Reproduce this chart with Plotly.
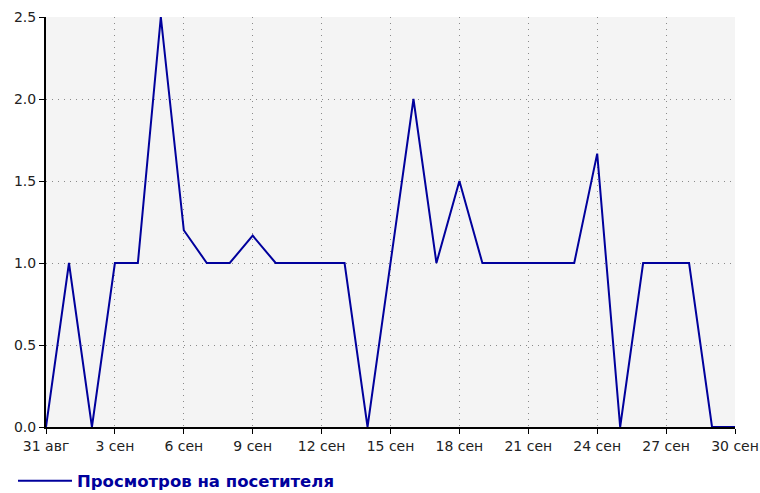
import plotly.graph_objects as go

dates = ["2023-08-31"] + [f"2023-09-{d:02d}" for d in range(1, 31)]
values = [0, 1, 0, 1, 1, 2.5, 1.2, 1, 1, 1.1667, 1, 1, 1, 1, 0, 1, 2, 1, 1.5, 1,
          1, 1, 1, 1, 1.6667, 0, 1, 1, 1, 0, 0]
tick_dates = ["2023-08-31", "2023-09-03", "2023-09-06", "2023-09-09", "2023-09-12",
              "2023-09-15", "2023-09-18", "2023-09-21", "2023-09-24", "2023-09-27", "2023-09-30"]
tick_labels = ["31 авг", "3 сен", "6 сен", "9 сен", "12 сен", "15 сен", "18 сен",
               "21 сен", "24 сен", "27 сен", "30 сен"]
series_name = "Просмотров на посетителя"

fig = go.Figure()
fig.add_trace(go.Scatter(x=dates, y=values, mode="lines", name=series_name,
                         line=dict(color="#00009c", width=2)))

fig.update_layout(
    width=760, height=493,
    margin=dict(l=46, r=25, t=17, b=66),
    paper_bgcolor="white", plot_bgcolor="#f4f4f4",
    font=dict(family="DejaVu Sans, Verdana, sans-serif", size=14, color="#222"),
    showlegend=True,
    legend=dict(orientation="h", xref="container", yref="container",
                x=0.0171, xanchor="left", y=0.0243, yanchor="middle",
                itemwidth=54,
                font=dict(color="#00009c", size=16.5, family="DejaVu Sans, Verdana, sans-serif", weight="bold"),
                bgcolor="rgba(0,0,0,0)"),
)
grid = dict(showgrid=True, gridcolor="#8a8a8a", griddash="1px,5px", gridwidth=1, zeroline=False,
            showline=True, linecolor="black", linewidth=2, ticks="outside", ticklen=5,
            tickcolor="black", tickwidth=1, automargin=False)
fig.update_xaxes(range=["2023-08-31", "2023-09-30"], tickvals=tick_dates, ticktext=tick_labels,
                 ticklabeloverflow="allow", **grid)
fig.update_yaxes(range=[0, 2.5], dtick=0.5, tickformat=".1f", **grid)

fig.write_html("out.html", config={"displayModeBar": False},
               post_script="document.body.style.margin='0';")
